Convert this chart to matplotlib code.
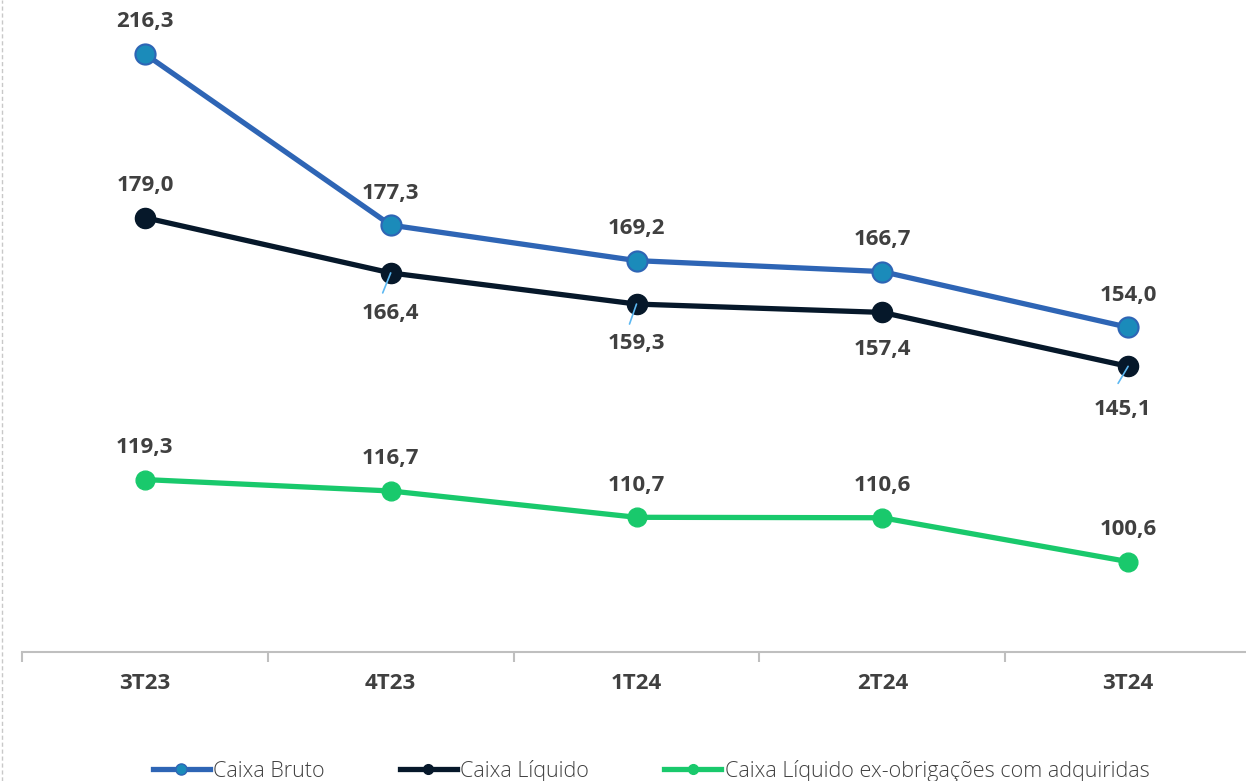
import matplotlib
matplotlib.use("Agg")
from matplotlib import pyplot as plt
from matplotlib.lines import Line2D

plt.rcParams['font.family'] = ['Open Sans', 'DejaVu Sans']

quarters = ["3T23", "4T23", "1T24", "2T24", "3T24"]
caixa_bruto = [216.3, 177.3, 169.2, 166.7, 154.0]
caixa_liquido = [179.0, 166.4, 159.3, 157.4, 145.1]
caixa_ex_obrig = [119.3, 116.7, 110.7, 110.6, 100.6]

names = ["Caixa Bruto", "Caixa Líquido", "Caixa Líquido ex-obrigações com adquiridas"]

text_col = "#404040"


def fmt(v):
    return f"{v:.1f}".replace(".", ",")


fig = plt.figure(figsize=(12.46, 7.81), dpi=100)
ax = fig.add_axes([22 / 1246, 129 / 781, 1229 / 1246, 652 / 781])

x = range(len(quarters))
ax.plot(x, caixa_bruto, color="#2E65B5", lw=3.8, marker="o", ms=14.5,
        mfc="#1B8BBA", mec="#2E65B5", mew=1.5, zorder=3)
ax.plot(x, caixa_liquido, color="#06182A", lw=3.8, marker="o", ms=14.5,
        mfc="#06182A", mec="#06182A", zorder=3)
ax.plot(x, caixa_ex_obrig, color="#19C96C", lw=3.8, marker="o", ms=13.5,
        mfc="#19C96C", mec="#19C96C", zorder=3)

lbl = dict(ha="center", va="center", fontsize=16, fontweight="bold",
           color=text_col, textcoords="offset pixels")

for i, v in enumerate(caixa_bruto):
    ax.annotate(fmt(v), (i, v), xytext=(0, 32), **lbl)
for i, v in enumerate(caixa_ex_obrig):
    ax.annotate(fmt(v), (i, v), xytext=(0, 32), **lbl)

# caixa liquido: first label above, the rest below with small leader lines
liq_off = [(0, 32), (0, -41), (0, -39), (0, -37), (-6, -43)]
leader = [None, (-8, -20), (-7, -20), None, (-10, -17)]
for i, v in enumerate(caixa_liquido):
    ax.annotate(fmt(v), (i, v), xytext=liq_off[i], **lbl)
    if leader[i] is not None:
        ax.annotate("", (i, v), xytext=leader[i], textcoords="offset pixels",
                    arrowprops=dict(arrowstyle="-", color="#5CB8F2", lw=1.2,
                                    shrinkA=0, shrinkB=0), zorder=4)

ax.set_xlim(-0.5, 4.5)
ax.set_ylim(80, 228.6)
ax.set_yticks([])
for s in ["top", "right", "left"]:
    ax.spines[s].set_visible(False)
ax.spines["bottom"].set_color("#BFBFBF")
ax.spines["bottom"].set_linewidth(1.5)

ax.set_xticks([i - 0.5 for i in range(len(quarters) + 1)], minor=False)
ax.set_xticklabels([])
ax.tick_params(axis="x", which="major", length=7, width=1.5, color="#BFBFBF")
ax.set_xticks(list(x), minor=True)
ax.set_xticklabels(quarters, minor=True, fontsize=16, fontweight="bold", color=text_col)
ax.tick_params(axis="x", which="minor", length=0, pad=15)

# dashed frame line on the left edge
fig.add_artist(Line2D([1.5 / 1246, 1.5 / 1246], [0, 1], color="#C8C8C8", lw=1,
                      ls=(0, (3, 2)), transform=fig.transFigure))

handles = [
    Line2D([], [], color="#2E65B5", lw=3.8, marker="o", ms=8, mfc="#1B8BBA", mec="#2E65B5"),
    Line2D([], [], color="#06182A", lw=3.8, marker="o", ms=7, mfc="#06182A", mec="#06182A"),
    Line2D([], [], color="#19C96C", lw=3.8, marker="o", ms=7, mfc="#19C96C", mec="#19C96C"),
]
leg = fig.legend(handles, names, loc="center", bbox_to_anchor=(651 / 1246, 1 - 771 / 781),
                 ncol=3, frameon=False, fontsize=15.5, handlelength=2.65, handletextpad=0.15,
                 columnspacing=3.5, labelcolor=text_col)
for t in leg.get_texts():
    t.set_fontweight("light")

fig.savefig("out.png", dpi=100)
